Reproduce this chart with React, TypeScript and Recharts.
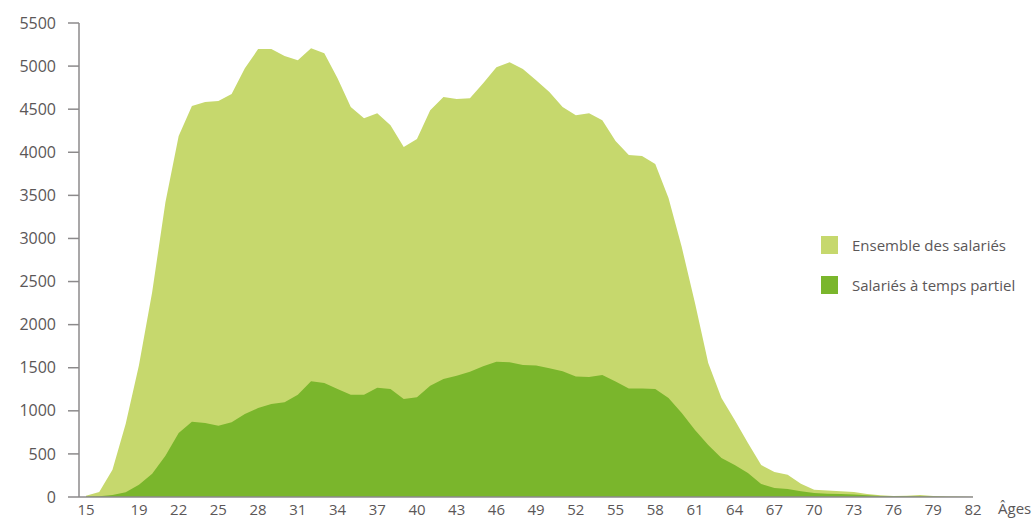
import React from 'react';
import { AreaChart, Area, XAxis, YAxis, Label } from 'recharts';

// Âges des salariés (15 à 82 ans)
const ages = [
  15, 16, 17, 18, 19, 20, 21, 22, 23, 24,
  25, 26, 27, 28, 29, 30, 31, 32, 33, 34,
  35, 36, 37, 38, 39, 40, 41, 42, 43, 44,
  45, 46, 47, 48, 49, 50, 51, 52, 53, 54,
  55, 56, 57, 58, 59, 60, 61, 62, 63, 64,
  65, 66, 67, 68, 69, 70, 71, 72, 73, 74,
  75, 76, 77, 78, 79, 80, 81, 82,
];

const ensemble = [
  15, 58, 317, 850, 1530, 2380, 3420, 4190, 4536, 4582,
  4594, 4675, 4976, 5197, 5197, 5116, 5069, 5208, 5150, 4860,
  4524, 4396, 4454, 4315, 4060, 4153, 4489, 4640, 4617, 4628,
  4802, 4988, 5046, 4965, 4837, 4698, 4524, 4431, 4454, 4373,
  4130, 3967, 3956, 3863, 3468, 2900, 2250, 1554, 1148, 893,
  626, 371, 290, 259, 155, 85, 74, 66, 58, 35,
  19, 12, 15, 23, 12, 6, 4, 2,
];

const partiel = [
  5, 8, 23, 54, 143, 271, 479, 742, 874, 858,
  827, 866, 963, 1032, 1079, 1098, 1187, 1342, 1322, 1253,
  1187, 1187, 1268, 1253, 1137, 1156, 1292, 1369, 1408, 1454,
  1516, 1570, 1563, 1532, 1525, 1494, 1459, 1397, 1393, 1416,
  1339, 1258, 1258, 1253, 1148, 974, 777, 603, 452, 371,
  279, 151, 104, 93, 66, 46, 38, 35, 30, 20,
  12, 10, 8, 10, 5, 3, 2, 1,
];

const xTicks = [15, 19, 22, 25, 28, 31, 34, 37, 40, 43, 46, 49, 52, 55, 58, 61, 64, 67, 70, 73, 76, 79, 82];
const yTicks = [0, 500, 1000, 1500, 2000, 2500, 3000, 3500, 4000, 4500, 5000, 5500];

const LIGHT = '#c6d86d';
const DARK = '#7ab62c';
const TEXT = '#5b5758';
const AXIS = '#8c8a8b';
const FONT = '"Open Sans", sans-serif';

const data = ages.map((age, i) => ({ age, ensemble: ensemble[i], partiel: partiel[i] }));

const legendItems = [
  { label: 'Ensemble des salariés', color: LIGHT },
  { label: 'Salariés à temps partiel', color: DARK },
];

export default function App() {
  return (
    <div style={{ position: 'absolute', left: 0, top: 0, width: 1034, height: 520, background: '#fff' }}>
      <AreaChart
        width={1034}
        height={520}
        data={data}
        margin={{ top: 23, right: 61, bottom: 0, left: 0 }}
      >
        <XAxis
          dataKey="age"
          type="number"
          domain={[15, 82]}
          ticks={xTicks}
          interval={0}
          padding={{ left: 7, right: 0 }}
          height={23}
          tickLine={false}
          tickSize={0}
          tickMargin={7}
          axisLine={{ stroke: AXIS, strokeWidth: 1.5 }}
          tick={{ fill: TEXT, fontSize: 15, fontFamily: FONT }}
        >
          <Label value="Âges" position="right" offset={25} fill={TEXT} fontSize={15} fontFamily={FONT} />
        </XAxis>
        <YAxis
          type="number"
          domain={[0, 5500]}
          ticks={yTicks}
          interval={0}
          width={79}
          tickSize={11}
          tickMargin={12}
          axisLine={{ stroke: AXIS, strokeWidth: 1.5 }}
          tickLine={{ stroke: AXIS, strokeWidth: 1.5 }}
          tick={{ fill: TEXT, fontSize: 16, fontFamily: FONT }}
        />
        <Area
          type="linear"
          dataKey="ensemble"
          name="Ensemble des salariés"
          stroke="none"
          fill={LIGHT}
          fillOpacity={1}
          isAnimationActive={false}
        />
        <Area
          type="linear"
          dataKey="partiel"
          name="Salariés à temps partiel"
          stroke="none"
          fill={DARK}
          fillOpacity={1}
          isAnimationActive={false}
        />
      </AreaChart>
      <div style={{ position: 'absolute', left: 821, top: 236, fontFamily: FONT, fontSize: 15, color: TEXT }}>
        {legendItems.map(item => (
          <div key={item.label} style={{ display: 'flex', alignItems: 'center', height: 18, marginBottom: 22 }}>
            <span style={{ display: 'inline-block', width: 17, height: 18, background: item.color, marginRight: 14 }} />
            <span>{item.label}</span>
          </div>
        ))}
      </div>
    </div>
  );
}
